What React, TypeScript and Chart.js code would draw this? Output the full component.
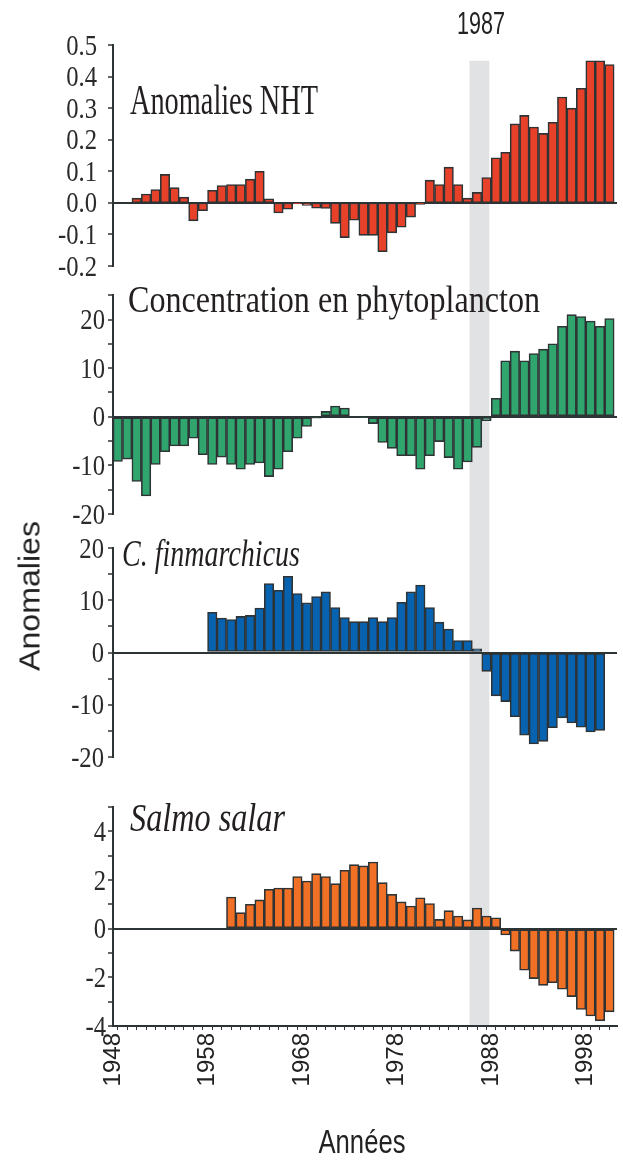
import React, { useEffect, useRef } from "react";
import { Chart, registerables } from "chart.js";
Chart.register(...registerables);

// ---------- data ----------
const X_MIN = 1948;
const X_MAX = 2001.3;
const SHADE_FROM = 1985.7;
const SHADE_TO = 1987.8;
const SHADE_LABEL = "1987";
const X_LABEL_YEARS = [1948, 1958, 1968, 1978, 1988, 1998];

const NHT_START = 1950;
const NHT_VALUES = [
  0.015, 0.028, 0.042, 0.09, 0.048, 0.018, -0.057, -0.025, 0.04, 0.055,
  0.058, 0.058, 0.075, 0.1, 0.013, -0.032, -0.02, -0.003, -0.008, -0.017,
  -0.018, -0.065, -0.11, -0.055, -0.103, -0.103, -0.155, -0.095, -0.077, -0.045,
  -0.005, 0.072, 0.058, 0.113, 0.058, 0.015, 0.033, 0.08, 0.143, 0.16,
  0.25, 0.277, 0.24, 0.22, 0.255, 0.335, 0.3, 0.363, 0.45, 0.45,
  0.438,
];

const PHYTO_START = 1948;
const PHYTO_VALUES = [
  -9.2, -8.7, -13.3, -16.3, -9.8, -7.2, -6.0, -6.0, -4.4, -7.8,
  -9.8, -8.3, -9.8, -10.8, -9.8, -9.5, -12.3, -10.8, -7.2, -4.4,
  -2.0, -0.3, 1.1, 2.2, 1.8, 0, -0.2, -1.4, -5.3, -6.5,
  -8.0, -8.0, -10.8, -8.0, -5.1, -8.4, -10.8, -9.3, -6.3, -0.8,
  3.8, 11.5, 13.5, 11.5, 13.0, 13.9, 15.0, 18.6, 21.0, 20.6,
  19.7, 18.6, 20.2,
];

const CFIN_START = 1958;
const CFIN_VALUES = [
  7.7, 6.6, 6.3, 6.9, 7.1, 8.5, 13.2, 11.9, 14.6, 11.3,
  9.5, 10.7, 11.6, 8.6, 6.7, 5.9, 5.9, 6.7, 5.9, 6.7,
  9.6, 11.6, 12.9, 8.6, 5.8, 4.5, 2.3, 2.3, 0.7, -3.6,
  -8.3, -9.4, -12.3, -15.8, -17.5, -17.0, -14.4, -12.5, -13.5, -14.3,
  -15.2, -14.9,
];

const SALMO_START = 1960;
const SALMO_VALUES = [
  1.3, 0.66, 1.0, 1.18, 1.62, 1.67, 1.67, 2.14, 1.96, 2.26,
  2.14, 1.85, 2.4, 2.63, 2.58, 2.74, 1.89, 1.41, 1.1, 0.93,
  1.27, 1.03, 0.38, 0.74, 0.52, 0.36, 0.85, 0.52, 0.45, -0.26,
  -0.92, -1.71, -2.05, -2.33, -2.22, -2.49, -2.79, -3.32, -3.59, -3.79,
  -3.42,
];

// ---------- styles ----------
const DARK = "#2c3436";
const SHADE = "#e1e2e4";
const SERIF = '"Liberation Serif", "Times New Roman", serif';
const SANS = '"Liberation Sans", Arial, sans-serif';

type Panel = {
  key: string;
  top: number;
  height: number;
  start: number;
  values: number[];
  color: string;
  min: number;
  max: number;
  step: number;
  labelEvery: number;
  decimals: number;
  labelRight: number;
  padTop: number;
  padBottom: number;
  showX: boolean;
  shadeTopValue?: number;
  shadeClipBottom?: boolean;
};

const PANELS: Panel[] = [
  { key: "nht", top: 0, height: 285, start: NHT_START, values: NHT_VALUES, color: "#e8412a",
    min: -0.2, max: 0.5, step: 0.1, labelEvery: 0.1, decimals: 1, labelRight: 97,
    padTop: 45, padBottom: 19, showX: false, shadeTopValue: 0.45 },
  { key: "phyto", top: 285, height: 250, start: PHYTO_START, values: PHYTO_VALUES, color: "#30a56d",
    min: -20, max: 25, step: 5, labelEvery: 10, decimals: 0, labelRight: 105,
    padTop: 9, padBottom: 21, showX: false },
  { key: "cfin", top: 535, height: 255, start: CFIN_START, values: CFIN_VALUES, color: "#0762b0",
    min: -20, max: 20, step: 5, labelEvery: 10, decimals: 0, labelRight: 104,
    padTop: 13, padBottom: 33, showX: false },
  { key: "salmo", top: 790, height: 378, start: SALMO_START, values: SALMO_VALUES, color: "#f07026",
    min: -4, max: 5, step: 1, labelEvery: 2, decimals: 0, labelRight: 106,
    padTop: 17, padBottom: 0, showX: true, shadeClipBottom: true },
];

const shadePlugin = {
  id: "shade",
  beforeDraw(chart: any, _args: any, opts: any) {
    const { ctx, scales, chartArea } = chart;
    const x0 = scales.x.getPixelForValue(SHADE_FROM);
    const x1 = scales.x.getPixelForValue(SHADE_TO);
    let top = 0;
    let bottom = chart.height;
    if (opts && opts.topValue != null) top = scales.y.getPixelForValue(opts.topValue);
    if (opts && opts.clipBottom) bottom = chartArea.bottom;
    ctx.save();
    ctx.fillStyle = SHADE;
    ctx.fillRect(x0, top, x1 - x0, bottom - top);
    ctx.restore();
  },
};

const yLabelPlugin = {
  id: "ylabels",
  afterDraw(chart: any, _args: any, opts: any) {
    const { ctx } = chart;
    const y = chart.scales.y;
    ctx.save();
    ctx.font = `29px ${SERIF}`;
    ctx.fillStyle = "#2a2a2a";
    ctx.textAlign = "right";
    ctx.textBaseline = "alphabetic";
    for (const t of y.ticks) {
      const v = t.value;
      const r = v / opts.every;
      if (Math.abs(r - Math.round(r)) > 1e-6) continue;
      let lab = v.toFixed(opts.decimals);
      if (Math.abs(v) < 1e-9) lab = (0).toFixed(opts.decimals);
      const py = y.getPixelForValue(v);
      ctx.save();
      ctx.translate(opts.right, py + 9.5);
      ctx.scale(0.85, 1);
      ctx.fillText(lab, 0, 0);
      ctx.restore();
    }
    ctx.restore();
  },
};

function PanelChart({ p }: { p: Panel }) {
  const ref = useRef<HTMLCanvasElement | null>(null);
  useEffect(() => {
    if (!ref.current) return;
    const data = p.values.map((v, i) => ({ x: p.start + i + 0.5, y: v }));
    const chart = new Chart(ref.current, {
      type: "bar",
      data: {
        datasets: [
          {
            data,
            backgroundColor: p.color,
            borderColor: "#2e3335",
            borderWidth: 1.6,
            borderSkipped: false,
            barPercentage: 1,
            categoryPercentage: 1,
          } as any,
        ],
      },
      options: {
        responsive: false,
        maintainAspectRatio: false,
        animation: false,
        events: [],
        layout: { padding: { left: 0, right: 6, top: p.padTop, bottom: p.padBottom } },
        plugins: {
          legend: { display: false },
          tooltip: { enabled: false },
          shade: { topValue: p.shadeTopValue, clipBottom: p.shadeClipBottom },
          ylabels: { every: p.labelEvery, decimals: p.decimals, right: p.labelRight },
        } as any,
        scales: {
          x: {
            type: "linear",
            min: X_MIN,
            max: X_MAX,
            offset: false,
            display: p.showX,
            ticks: {
              stepSize: 1,
              autoSkip: false,
              includeBounds: false,
              minRotation: 90,
              maxRotation: 90,
              padding: 3,
              color: "#222",
              font: { family: SANS, size: 24 },
              callback: (v: any) => (X_LABEL_YEARS.includes(Number(v)) ? String(v) : ""),
            },
            grid: { drawOnChartArea: false, drawTicks: true, tickLength: 4, tickColor: DARK, tickWidth: 1 },
            border: { color: DARK, width: 2 },
            afterFit: (s: any) => {
              s.height = p.showX ? 142 : 0;
              s.paddingLeft = 0;
              s.paddingRight = 0;
            },
          } as any,
          y: {
            type: "linear",
            min: p.min,
            max: p.max,
            ticks: {
              stepSize: p.step,
              autoSkip: false,
              color: "rgba(0,0,0,0)",
              font: { family: SERIF, size: 12 },
            },
            grid: {
              drawOnChartArea: true,
              drawTicks: true,
              tickLength: 5,
              tickColor: DARK,
              tickWidth: 1.5,
              lineWidth: 2,
              color: (c: any) => (c.tick && Math.abs(c.tick.value) < 1e-9 ? DARK : "rgba(0,0,0,0)"),
            },
            border: { color: DARK, width: 2 },
            afterFit: (s: any) => {
              s.width = 113;
            },
          } as any,
        },
      },
      plugins: [shadePlugin, yLabelPlugin],
    });
    return () => chart.destroy();
  }, [p]);
  return (
    <canvas
      ref={ref}
      width={623}
      height={p.height}
      style={{ position: "absolute", left: 0, top: p.top, width: 623, height: p.height }}
    />
  );
}

const measureCtx: CanvasRenderingContext2D | null =
  typeof document !== "undefined" ? document.createElement("canvas").getContext("2d") : null;

function fitScale(text: string, font: string, target: number) {
  if (!measureCtx) return 1;
  measureCtx.font = font;
  const w = measureCtx.measureText(text).width;
  return w > 0 ? target / w : 1;
}

function Txt({ text, x, y, font, target, align = "left", rotate = 0, color = "#231f20" }: {
  text: string; x: number; y: number; font: string; target: number; align?: "left" | "center"; rotate?: number; color?: string;
}) {
  const k = fitScale(text, font, target);
  const tx = align === "center" ? "-50%" : "0";
  return (
    <div style={{ position: "absolute", left: x, top: y, width: 0, height: 0 }}>
      <span
        style={{
          position: "absolute",
          left: 0,
          top: 0,
          whiteSpace: "nowrap",
          font,
          lineHeight: 1,
          color,
          transformOrigin: align === "center" ? "50% 50%" : "0 50%",
          transform: `translate(${tx}, -50%) rotate(${rotate}deg) scaleX(${k})`,
        }}
      >
        {text}
      </span>
    </div>
  );
}

export default function App() {
  return (
    <div
      style={{
        position: "absolute",
        left: 0,
        top: 0,
        width: 623,
        height: 1168,
        background: "#fff",
        overflow: "hidden",
      }}
    >
      {PANELS.map((p) => (
        <PanelChart key={p.key} p={p} />
      ))}
      <Txt text={SHADE_LABEL} x={481} y={23} font={`31px ${SANS}`} target={48} align="center" color="#222" />
      <Txt text="Anomalies NHT" x={130} y={100} font={`42px ${SERIF}`} target={188} />
      <Txt text="Concentration en phytoplancton" x={128} y={299} font={`37px ${SERIF}`} target={412} />
      <Txt text="C. finmarchicus" x={122} y={553} font={`italic 38px ${SERIF}`} target={178} />
      <Txt text="Salmo salar" x={130} y={817} font={`italic 39px ${SERIF}`} target={155} />
      <Txt text="Années" x={362} y={1141} font={`34px ${SANS}`} target={87} align="center" color="#222" />
      <Txt text="Anomalies" x={30} y={596} font={`29px ${SANS}`} target={150} align="center" rotate={-90} color="#222" />
    </div>
  );
}
